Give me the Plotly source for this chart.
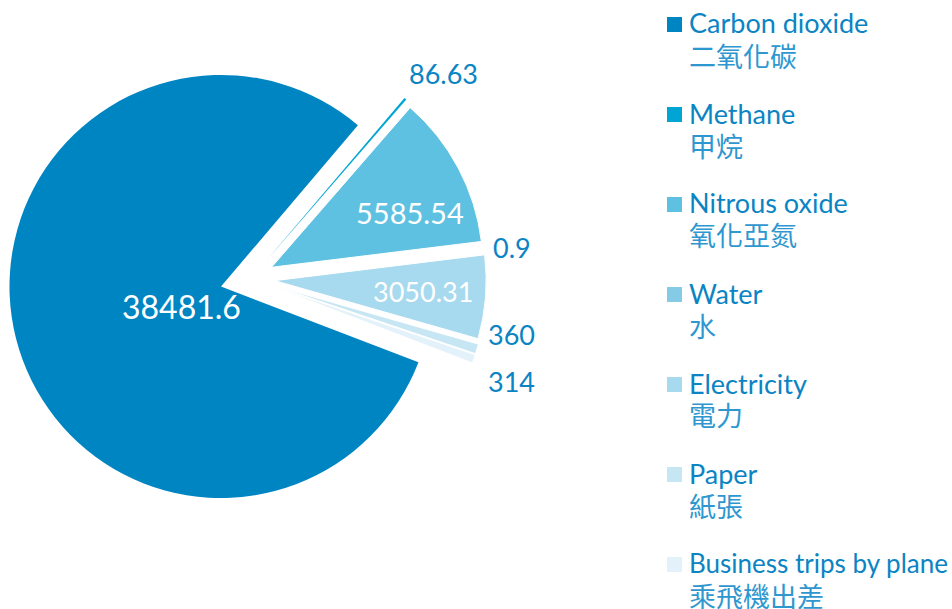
import math
import plotly.graph_objects as go

# ---------------- data ----------------
labels_en = ["Carbon dioxide", "Methane", "Nitrous oxide", "Water",
             "Electricity", "Paper", "Business trips by plane"]
labels_zh = ["二氧化碳", "甲烷", "氧化亞氮", "水", "電力", "紙張", "乘飛機出差"]
values = [38481.6, 86.63, 5585.54, 0.9, 3050.31, 360, 314]
value_text = ["38481.6", "86.63", "5585.54", "0.9", "3050.31", "360", "314"]
colors = ["#0085c3", "#00a5d4", "#5ec1e1", "#85cbe6", "#a7daee", "#c6e6f4", "#e2f1fa"]

# ---------------- layout constants ----------------
W, H = 952, 609
CX, CY, R = 221, 286.5, 211.5     # pie centre / radius in px
ROT = 111                         # start angle of first slice (clockwise from 12 o'clock)
pulled = [False, True, True, True, True, True, True]
PULL_PX = 54                      # explode distance
PULL_CENTER_ANGLE = 75            # pulled slices fan out around this direction
PULL_SPREAD = 0.45
edge_w = [0, 0, 1, 1, 1, 1, 1]
inside = [True, False, True, False, True, False, False]
inside_dist = [44.5, 0, 149, 0, 149, 0, 0]
inside_ang = [242.6, None, 68.6, None, 94.2, None, None]
inside_size = [32, 0, 29, 0, 27, 0, 0]
outside_pos = {1: (443, 74), 3: (512, 248), 5: (511, 334), 6: (511, 381)}
OUT_SIZE = 27

LATIN = "Lato"
CJK = "Noto Sans CJK TC"
BLUE = "#0b84c4"
BLUE_ZH = "#2f97cf"
LEG_SIZE = [27, 27, 27, 27, 27, 27, 26]

total = sum(values)
mids = []
a = ROT
for v in values:
    span = v / total * 360.0
    mids.append((a + span / 2) % 360)
    a += span


def px(x):
    return x / W


def py(y):
    return 1 - y / H


def polar(x0, y0, dist, ang_deg):
    t = math.radians(ang_deg)
    return x0 + dist * math.sin(t), y0 - dist * math.cos(t)


fig = go.Figure()
annotations = []
for i, v in enumerate(values):
    if pulled[i]:
        pdir = PULL_CENTER_ANGLE + PULL_SPREAD * (mids[i] - PULL_CENTER_ANGLE)
        cx, cy = polar(CX, CY, PULL_PX, pdir)
    else:
        pdir = mids[i]
        cx, cy = CX, CY
    fig.add_trace(go.Pie(
        values=values,
        labels=labels_en,
        sort=False,
        direction="clockwise",
        rotation=ROT,
        marker=dict(
            colors=[colors[i] if j == i else "rgba(0,0,0,0)" for j in range(len(values))],
            line=dict(color="white",
                      width=[edge_w[i] if j == i else 0 for j in range(len(values))]),
        ),
        textinfo="none",
        hoverinfo="skip",
        showlegend=False,
        domain=dict(x=[max(0, px(cx - R)), min(1, px(cx + R))],
                    y=[max(0, py(cy + R)), min(1, py(cy - R))]),
    ))
    if inside[i]:
        ang = inside_ang[i] if inside_ang[i] is not None else pdir
        tx, ty = polar(cx, cy, inside_dist[i], ang)
        annotations.append(dict(x=px(tx), y=py(ty), xref="paper", yref="paper",
                                text=value_text[i], showarrow=False,
                                xanchor="center", yanchor="middle",
                                font=dict(family=LATIN, size=inside_size[i], color="white")))
    else:
        ox, oy = outside_pos[i]
        annotations.append(dict(x=px(ox), y=py(oy), xref="paper", yref="paper",
                                text=value_text[i], showarrow=False,
                                xanchor="center", yanchor="middle",
                                font=dict(family=LATIN, size=OUT_SIZE, color=BLUE)))

# manual legend (square + English + Chinese)
shapes = []
for i in range(len(values)):
    top = 17 + 90 * i
    shapes.append(dict(type="rect", xref="paper", yref="paper",
                       x0=px(667), x1=px(682), y0=py(top + 15), y1=py(top),
                       fillcolor=colors[i], line=dict(width=0)))
    annotations.append(dict(x=px(687), y=py(top + 6), xref="paper", yref="paper",
                            text=labels_en[i], showarrow=False,
                            xanchor="left", yanchor="middle",
                            font=dict(family=LATIN, size=LEG_SIZE[i], color=BLUE)))
    annotations.append(dict(x=px(687), y=py(top + 38), xref="paper", yref="paper",
                            text=labels_zh[i], showarrow=False,
                            xanchor="left", yanchor="middle",
                            font=dict(family=CJK, size=27, color=BLUE_ZH)))

fig.update_layout(
    width=W, height=H,
    margin=dict(l=0, r=0, t=0, b=0),
    paper_bgcolor="white", plot_bgcolor="white",
    showlegend=False,
    shapes=shapes,
    annotations=annotations,
)

fig.write_html("out.html")
